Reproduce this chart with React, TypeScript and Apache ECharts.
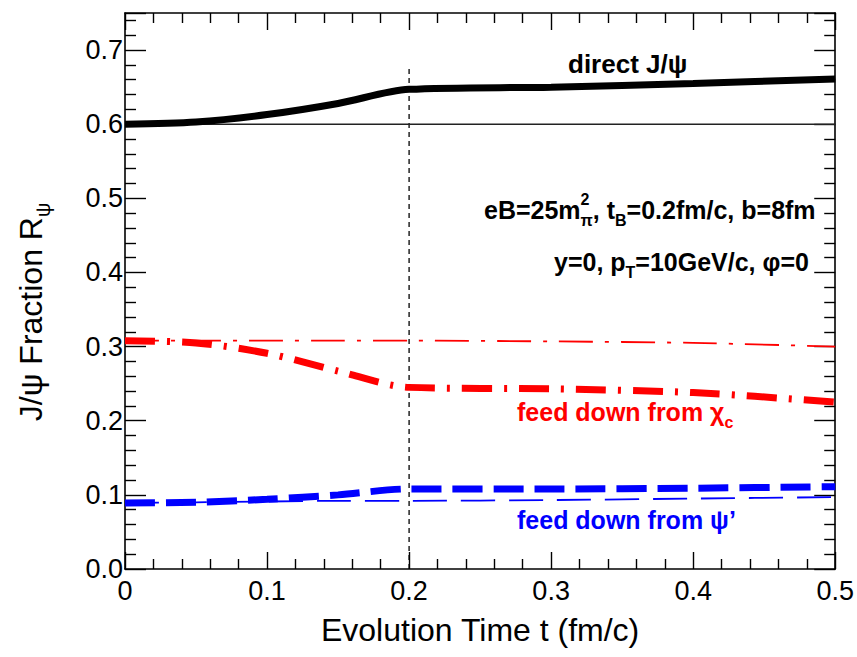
import React, { useEffect, useRef } from 'react';
import * as echarts from 'echarts';

// Evolution time t (fm/c)
const times = [0, 0.05, 0.1, 0.15, 0.2, 0.3, 0.4, 0.5];
// direct J/psi fraction: with magnetic field (thick) and without (thin)
const directField = [0.6, 0.603, 0.613, 0.628, 0.647, 0.65, 0.655, 0.661];
const directNoField = [0.6, 0.6, 0.6, 0.6, 0.6, 0.6, 0.6, 0.6];
// feed down from chi_c
const chiField = [0.308, 0.305, 0.291, 0.267, 0.245, 0.243, 0.238, 0.225];
const chiNoField = [0.308, 0.308, 0.308, 0.308, 0.308, 0.307, 0.305, 0.3];
// feed down from psi'
const psiField = [0.089, 0.09, 0.094, 0.1, 0.108, 0.108, 0.109, 0.111];
const psiNoField = [0.089, 0.09, 0.091, 0.092, 0.092, 0.093, 0.095, 0.097];
// field switch-off time t_B and the extent of its marker
const tB = [0.2, 0.2];
const tBRange = [0, 0.68];

const FONT = '"Liberation Sans", Arial, Helvetica, sans-serif';

const pairs = (xs: number[], ys: number[]) => xs.map((x, i) => [x, ys[i]]);

const richLabel = (size: number, color: string) => ({
  m: { fontSize: size, lineHeight: size + 12, fontFamily: FONT, color, align: 'left' },
  sub: {
    fontSize: Math.round(size * 0.62),
    lineHeight: Math.round(size * 0.62),
    fontFamily: FONT,
    color,
    align: 'left',
    verticalAlign: 'bottom',
  },
  sup: {
    fontSize: Math.round(size * 0.62),
    lineHeight: Math.round(size * 0.62),
    fontFamily: FONT,
    color,
    align: 'left',
    verticalAlign: 'top',
    width: 0,
  },
});

function xAxisDef(pos: 'bottom' | 'top', labels: boolean) {
  const ax: any = {
    type: 'value',
    position: pos,
    min: 0,
    max: 0.5,
    interval: 0.1,
    axisLine: { show: true, lineStyle: { color: '#000', width: 1.6 } },
    axisTick: { show: true, inside: true, length: 17, lineStyle: { color: '#000', width: 1.4 } },
    minorTick: { show: true, splitNumber: 5, length: 10, lineStyle: { color: '#000', width: 1.4 } },
    axisLabel: {
      show: labels,
      margin: 8,
      fontSize: 27,
      color: '#000',
      fontFamily: FONT,
      formatter: (v: number) => (v === 0 ? '0' : v.toFixed(1)),
    },
    splitLine: { show: false },
  };
  if (pos === 'top') ax.axisLine.onZero = false;
  if (labels) {
    ax.name = 'Evolution Time t (fm/c)';
    ax.nameLocation = 'middle';
    ax.nameGap = 45;
    ax.nameTextStyle = { fontSize: 32, fontFamily: FONT, color: '#000' };
  }
  return ax;
}

function yAxisDef(pos: 'left' | 'right', labels: boolean) {
  const ax: any = {
    type: 'value',
    position: pos,
    min: 0,
    max: 0.75,
    interval: 0.1,
    axisLine: { show: true, lineStyle: { color: '#000', width: 1.6 } },
    axisTick: { show: true, inside: true, length: 21, lineStyle: { color: '#000', width: 1.4 } },
    minorTick: { show: true, splitNumber: 5, length: 11, lineStyle: { color: '#000', width: 1.4 } },
    axisLabel: {
      show: labels,
      margin: 2,
      fontSize: 27,
      color: '#000',
      fontFamily: FONT,
      formatter: (v: number) => (v > 0.74 ? '' : v.toFixed(1)),
    },
    splitLine: { show: false },
  };
  if (pos === 'right') ax.axisLine.onZero = false;
  if (labels) {
    ax.name = '{m|J/ψ Fraction R}{sub|ψ}';
    ax.nameLocation = 'middle';
    ax.nameRotate = 90;
    ax.nameGap = 72;
    ax.nameTextStyle = { rich: richLabel(32, '#000'), padding: [0, 42, 0, 0] };
  }
  return ax;
}

const note = (text: string, left: number, top: number, size: number, color: string) => ({
  text,
  left,
  top,
  padding: 0,
  textStyle: { rich: richLabel(size, color) },
});

export default function App() {
  const ref = useRef<HTMLDivElement>(null);
  useEffect(() => {
    document.body.style.margin = '0';
    const chart = echarts.init(ref.current!, null, { renderer: 'svg' });
    const smoothLine = { smooth: 0.3 };
    const option = {
      animation: false,
      grid: { left: 125, right: 20, top: 13, bottom: 88 },
      title: [
        note('{m|direct J/ψ}', 568, 45, 26, '#000'),
        note('{m|eB=25m}{sup|2}{sub|π}{m|, t}{sub|B}{m|=0.2fm/c, b=8fm}', 484, 191, 25, '#000'),
        note('{m|y=0, p}{sub|T}{m|=10GeV/c, φ=0}', 554, 243, 25, '#000'),
        note('{m|feed down from χ}{sub|c}', 517, 393, 25, '#ff0000'),
        note('{m|feed down from ψ’}', 517, 501, 25, '#0000ff'),
      ],
      xAxis: [xAxisDef('bottom', true), xAxisDef('top', false)],
      yAxis: [yAxisDef('left', true), yAxisDef('right', false)],
      series: [
        {
          name: 't_B',
          type: 'line',
          data: pairs(tB, tBRange),
          symbol: 'none',
          lineStyle: { color: '#000', width: 1.3, type: [5, 4] },
          z: 1,
        },
        {
          name: 'direct J/ψ (no field)',
          type: 'line',
          data: pairs(times, directNoField),
          symbol: 'none',
          lineStyle: { color: '#222', width: 1.6 },
          z: 2,
        },
        {
          name: 'χc (no field)',
          type: 'line',
          data: pairs(times, chiNoField),
          symbol: 'none',
          ...smoothLine,
          lineStyle: { color: '#ff0000', width: 1.8, type: [34, 12, 4, 12] },
          z: 2,
        },
        {
          name: "ψ' (no field)",
          type: 'line',
          data: pairs(times, psiNoField),
          symbol: 'none',
          ...smoothLine,
          lineStyle: { color: '#0000ff', width: 1.8, type: [34, 14] },
          z: 2,
        },
        {
          name: 'direct J/ψ',
          type: 'line',
          data: pairs(times, directField),
          symbol: 'none',
          ...smoothLine,
          lineStyle: { color: '#000', width: 7 },
          z: 3,
        },
        {
          name: 'χc',
          type: 'line',
          data: pairs(times, chiField),
          symbol: 'none',
          ...smoothLine,
          lineStyle: { color: '#ff0000', width: 7, type: [30, 12, 3, 12] },
          z: 3,
        },
        {
          name: "ψ'",
          type: 'line',
          data: pairs(times, psiField),
          symbol: 'none',
          ...smoothLine,
          lineStyle: { color: '#0000ff', width: 7, type: [30, 11] },
          z: 3,
        },
      ],
    };
    chart.setOption(option as any);
    return () => chart.dispose();
  }, []);
  return <div ref={ref} style={{ width: 857, height: 657 }} />;
}
